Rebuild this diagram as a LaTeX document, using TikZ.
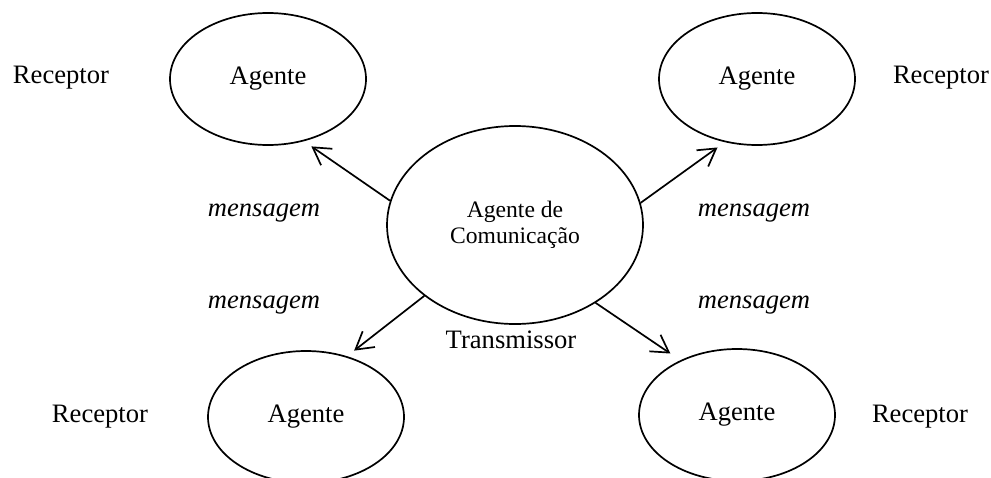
\documentclass[tikz,border=0pt]{standalone}
\usepackage{fontspec}
\setmainfont{Liberation Serif}
\usetikzlibrary{shapes.geometric,arrows.meta}
\tikzset{
  agent/.style={draw, ellipse, line width=1.7pt, inner sep=0pt,
    minimum width=196pt, minimum height=132pt, font=\fontsize{26.6}{30}\selectfont},
  commagent/.style={draw, ellipse, line width=1.7pt, inner sep=0pt,
    minimum width=256pt, minimum height=198pt, align=center,
    font=\fontsize{23.6}{26}\selectfont},
  lbl/.style={anchor=base, inner sep=0pt, font=\fontsize{26.6}{30}\selectfont},
  msg/.style={lbl, font=\fontsize{26.6}{30}\selectfont\itshape},
  link/.style={line width=1.7pt, -{Straight Barb[length=17pt,width=20pt,line width=1.7pt]}}
}
\begin{document}
\begin{tikzpicture}[x=1pt,y=-1pt]
\useasboundingbox (0,0) rectangle (991,477);
\clip (0,0) rectangle (991,477);
\node[commagent] (c) at (515,225) {Agente de\\Comunicação};
\node[agent] (tl) at (268,79) {Agente};
\node[agent] (tr) at (757,79) {Agente};
\node[agent] (bl) at (306,417) {Agente};
\node[agent] (br) at (737,415) {Agente};
\node[lbl] (r1) at (61,83) {Receptor};
\node[lbl] (r2) at (941,83) {Receptor};
\node[lbl] (r3) at (100,422) {Receptor};
\node[lbl] (r4) at (920,422) {Receptor};
\node[msg] (m1) at (264,216) {mensagem};
\node[msg] (m2) at (754,216) {mensagem};
\node[msg] (m3) at (264,308) {mensagem};
\node[msg] (m4) at (754,308) {mensagem};
\node[lbl] (t) at (511,348) {Transmissor};
\draw[link, shorten >=9pt] (c.169) -- (tl.-60);
\draw[link, shorten >=9pt] (c.10) -- (tr.-117);
\draw[link, shorten >=9pt] (c.218) -- (bl.56);
\draw[link, shorten >=12pt] (c.-44) -- (br.136);
\end{tikzpicture}
\end{document}
